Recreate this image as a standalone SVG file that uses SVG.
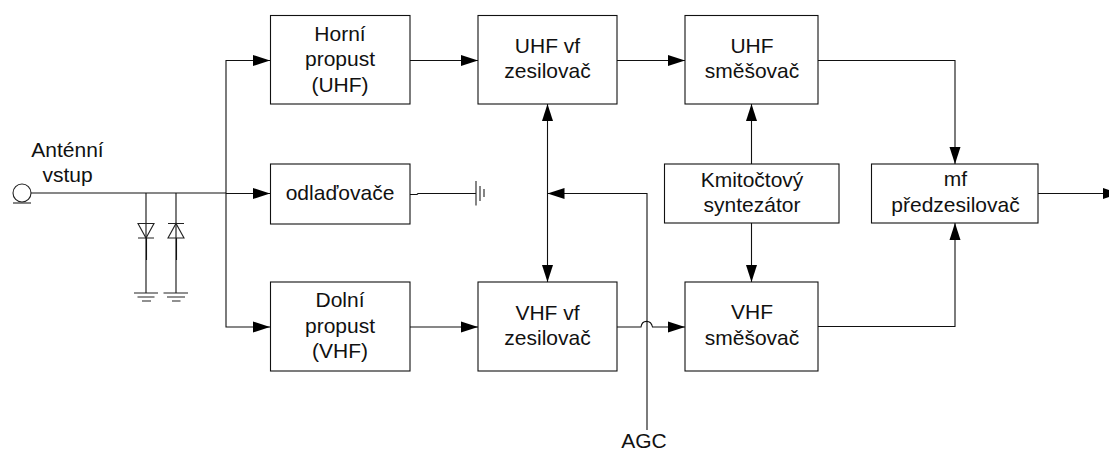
<svg xmlns="http://www.w3.org/2000/svg" width="1109" height="450" viewBox="0 0 1109 450">
<defs>
<marker id="a" markerUnits="userSpaceOnUse" markerWidth="17" markerHeight="12" refX="17" refY="5.500" orient="auto" overflow="visible"><path d="M0 0L17 5.500L0 11Z" fill="#000"/></marker>
<marker id="s" markerUnits="userSpaceOnUse" markerWidth="17" markerHeight="12" refX="17" refY="5.500" orient="auto-start-reverse" overflow="visible"><path d="M0 0L17 5.500L0 11Z" fill="#000"/></marker>
</defs>
<style>
rect{fill:#fff;stroke:#111;stroke-width:1.1}
.c path{fill:none;stroke:#111;stroke-width:1.1}
.t path,.t circle{fill:none;stroke:#222;stroke-width:1.1}
text{font-family:"Liberation Sans",Arial,sans-serif;font-size:21px;fill:#111;text-anchor:middle}
</style>
<rect width="1109" height="450" style="fill:#fff;stroke:none"/>
<g id="connectors" class="c">
<path d="M31 193H226"/>
<path d="M226 193.500H270" marker-end="url(#a)"/>
<path d="M226 193V60.500H270" marker-end="url(#a)"/>
<path d="M226 193V327H270" marker-end="url(#a)"/>
<path d="M410 60.500H478" marker-end="url(#a)"/>
<path d="M410 327H478" marker-end="url(#a)"/>
<path d="M617 60.500H685" marker-end="url(#a)"/>
<path d="M617 327H641C642 319.500 651 319.500 652.500 327H685" marker-end="url(#a)"/>
<path d="M547.500 104V282" marker-start="url(#s)" marker-end="url(#s)"/>
<path d="M647 430V193.500H547.500" marker-end="url(#a)"/>
<path d="M751.500 164V104" marker-end="url(#a)"/>
<path d="M751.500 223V282" marker-end="url(#a)"/>
<path d="M818 60.500H955V164" marker-end="url(#a)"/>
<path d="M818 326.500H955V223" marker-end="url(#a)"/>
<path d="M1038 193.500H1120" marker-end="url(#a)"/>
<path d="M410 194.500H417L418 193.500H476"/>
<path d="M146 193V293M176 193V293"/>
<path d="M146.500 238V260M176.500 238V260"/>
</g>
<g id="antenna" class="t"><circle cx="22" cy="193" r="9"/><path d="M13 203H31"/><text x="67.500" y="157">Anténní</text><text x="67.500" y="182">vstup</text></g>
<g id="diode1" class="t"><path d="M138 223.500H154L146 238ZM138 238H154"/></g>
<g id="diode2" class="t"><path d="M168 238H184L176 223.500ZM168 223.500H184"/></g>
<g id="ground1" class="t"><path d="M134 293H158M137.500 297H154.500M142 301H151"/></g>
<g id="ground2" class="t"><path d="M163.500 293H188M167 297H185M172 301H180.500"/></g>
<g id="ground3" class="t"><path d="M476 181V205.500M480 186V201M484 189V197"/></g>
<g id="horni"><rect x="270.500" y="15.500" width="139.500" height="88.500"/><text x="340" y="41">Horní</text><text x="340" y="66">propust</text><text x="340" y="92">(UHF)</text></g>
<g id="odladovace"><rect x="270.500" y="164" width="139.500" height="60"/><text x="340" y="200">odlaďovače</text></g>
<g id="dolni"><rect x="270.500" y="282" width="139.500" height="89"/><text x="340" y="307">Dolní</text><text x="340" y="333">propust</text><text x="340" y="358">(VHF)</text></g>
<g id="uhf-vf"><rect x="478" y="15.500" width="139" height="88.500"/><text x="547.500" y="53">UHF vf</text><text x="547.500" y="78">zesilovač</text></g>
<g id="vhf-vf"><rect x="478" y="282" width="139" height="89"/><text x="547.500" y="320">VHF vf</text><text x="547.500" y="345">zesilovač</text></g>
<g id="uhf-mix"><rect x="685" y="15.500" width="133" height="88.500"/><text x="752" y="53">UHF</text><text x="752" y="78">směšovač</text></g>
<g id="vhf-mix"><rect x="685" y="282" width="133" height="89"/><text x="752" y="319">VHF</text><text x="752" y="345">směšovač</text></g>
<g id="synt"><rect x="664.500" y="164" width="174.500" height="59"/><text x="752" y="187">Kmitočtový</text><text x="752" y="212">syntezátor</text></g>
<g id="mf"><rect x="871.500" y="164" width="166.500" height="59"/><text x="955.500" y="186">mf</text><text x="955.500" y="212">předzesilovač</text></g>
<g id="agc"><text x="644" y="448">AGC</text></g>
</svg>
